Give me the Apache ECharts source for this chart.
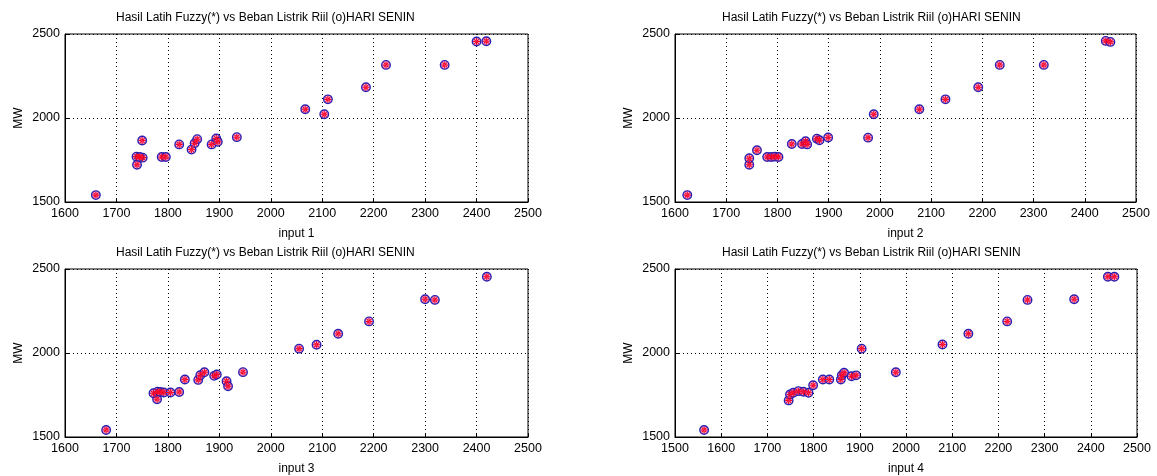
<!DOCTYPE html>
<html><head><meta charset="utf-8">
<script src="https://cdn.jsdelivr.net/npm/echarts@6/dist/echarts.min.js"></script>
<style>html,body{margin:0;padding:0;background:#fff}#c{width:1157px;height:476px}</style>
</head><body><div id="c"></div>
<script>
const titleText = 'Hasil Latih Fuzzy(*) vs Beban Listrik Riil (o)HARI SENIN';
const xNames = ['input 1', 'input 2', 'input 3', 'input 4'];
const yName = 'MW';
const xMins = [1600, 1600, 1600, 1500];
const xMax = 2500;
const yMin = 1500, yMax = 2500;

const input1 = [1660,1740,1739,1751,1745,1750,1788,1796,1822,1846,1852,1857,1885,1894,1897,1934,2067,2104,2111,2185,2224,2338,2400,2419];
const beban1 = [1541,1722,1770,1764,1768,1866,1768,1768,1843,1812,1850,1874,1843,1878,1858,1886,2052,2022,2111,2183,2316,2316,2455,2457];

const input2 = [1624,1745,1745,1760,1780,1788,1795,1802,1828,1848,1855,1858,1877,1882,1899,1977,1988,2077,2128,2192,2234,2320,2441,2450];
const beban2 = [1541,1722,1760,1808,1768,1768,1770,1768,1845,1845,1862,1843,1877,1868,1884,1883,2022,2052,2111,2183,2316,2316,2459,2453];

const input3 = [1680,1779,1772,1780,1785,1792,1805,1822,1833,1859,1863,1871,1890,1895,1914,1917,1946,2055,2089,2131,2191,2300,2319,2420];
const beban3 = [1542,1725,1760,1770,1768,1765,1765,1768,1842,1840,1868,1885,1864,1872,1832,1802,1886,2026,2049,2115,2188,2320,2316,2454];

const input4 = [1563,1746,1749,1756,1767,1778,1789,1799,1820,1834,1859,1861,1866,1882,1892,1904,1978,2079,2135,2219,2263,2364,2437,2451];
const beban4 = [1542,1718,1753,1763,1773,1769,1763,1808,1842,1842,1842,1867,1882,1862,1867,2026,1885,2051,2115,2188,2316,2320,2454,2454];

const inputs = [input1, input2, input3, input4];
const bebans = [beban1, beban2, beban3, beban4];

const grids = [
  {left: 65, top: 34, width: 463, height: 168},
  {left: 675, top: 34, width: 461, height: 168},
  {left: 65, top: 269, width: 463, height: 169},
  {left: 675, top: 269, width: 462, height: 169}
];
const titlePos = [{left: 116, top: 12}, {left: 722, top: 12}, {left: 116, top: 247}, {left: 722, top: 247}];
const FONT = 'Liberation Sans, Arial, sans-serif';
const asterisk = 'path://M-0.75,-5L0.75,-5L0.75,5L-0.75,5Z M-5,-0.75L5,-0.75L5,0.75L-5,0.75Z M-4.1,-3.05L3.05,4.1L4.1,3.05L-3.05,-4.1Z M4.1,-3.05L-3.05,4.1L-4.1,3.05L3.05,-4.1Z';
const plain = v => String(v);

const option = {
  animation: false,
  backgroundColor: '#fff',
  title: titlePos.map(p => ({
    text: titleText, left: p.left, top: p.top, padding: 0,
    textStyle: {fontFamily: FONT, fontSize: 12, fontWeight: 'normal', color: '#000'}
  })),
  grid: grids.map(g => Object.assign({show: true, borderColor: '#000', borderWidth: 1, backgroundColor: '#fff'}, g)),
  xAxis: grids.map((g, i) => ({
    type: 'value', gridIndex: i, min: xMins[i], max: xMax, interval: 100,
    name: xNames[i], nameLocation: 'middle', nameGap: 26,
    nameTextStyle: {fontFamily: FONT, fontSize: 12, color: '#000'},
    axisLine: {show: true, lineStyle: {color: '#000', width: 1}},
    axisTick: {show: true, inside: true, length: 4, lineStyle: {color: '#000'}},
    axisLabel: {fontFamily: FONT, fontSize: 12.5, color: '#000', margin: 5, formatter: plain, showMinLabel: true, showMaxLabel: true},
    splitLine: {show: true, lineStyle: {color: '#000', type: [1, 3], width: 1}}
  })),
  yAxis: grids.map((g, i) => ({
    type: 'value', gridIndex: i, min: yMin, max: yMax, interval: 500,
    name: yName, nameLocation: 'middle', nameGap: 40, nameRotate: 90,
    nameTextStyle: {fontFamily: FONT, fontSize: 12, color: '#000'},
    axisLine: {show: true, lineStyle: {color: '#000', width: 1}},
    axisTick: {show: true, inside: true, length: 4, lineStyle: {color: '#000'}},
    axisLabel: {fontFamily: FONT, fontSize: 12.5, color: '#000', margin: 5, formatter: plain},
    splitLine: {show: true, lineStyle: {color: '#000', type: [1, 3], width: 1}}
  })),
  series: []
};
inputs.forEach((xs, i) => {
  const pts = xs.map((v, j) => [v, bebans[i][j]]);
  option.series.push({
    type: 'scatter', name: 'Riil', xAxisIndex: i, yAxisIndex: i, data: pts,
    symbol: 'circle', symbolSize: 8.5,
    itemStyle: {color: 'rgba(215,130,210,0.6)', borderColor: '#2a1fb0', borderWidth: 1.4, opacity: 1}
  });
  option.series.push({
    type: 'scatter', name: 'Fuzzy', xAxisIndex: i, yAxisIndex: i, data: pts,
    symbol: asterisk, symbolSize: 7,
    itemStyle: {color: '#ff0020', opacity: 1}
  });
});
const chart = echarts.init(document.getElementById('c'), null, {renderer: 'canvas'});
chart.setOption(option);
</script>
</body></html>
